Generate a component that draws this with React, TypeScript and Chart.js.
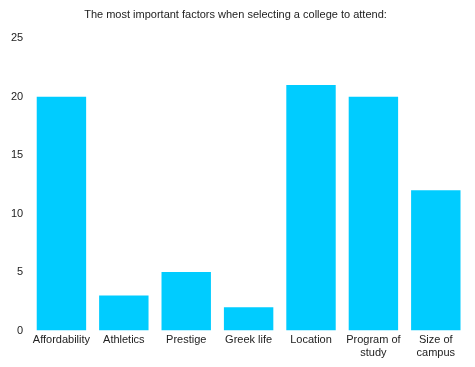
import React, { useEffect, useRef } from "react";
import { Chart, registerables } from "chart.js";

Chart.register(...registerables);

const categories: (string | string[])[] = [
  "Affordability",
  "Athletics",
  "Prestige",
  "Greek life",
  "Location",
  ["Program of", "study"],
  ["Size of", "campus"],
];
const values: number[] = [20, 3, 5, 2, 21, 20, 12];
const titleText = "The most important factors when selecting a college to attend:";

export default function App() {
  const ref = useRef<HTMLCanvasElement | null>(null);
  useEffect(() => {
    document.body.style.margin = "0";
    const ctx = ref.current!;
    const chart = new Chart(ctx, {
      type: "bar",
      data: {
        labels: categories,
        datasets: [
          {
            data: values,
            backgroundColor: "#00CCFF",
            borderWidth: 0,
            categoryPercentage: 0.9,
            barPercentage: 0.88,
          },
        ],
      },
      options: {
        animation: false,
        responsive: false,
        layout: { padding: { left: 4, right: 8, top: 8, bottom: 4 } },
        plugins: {
          legend: { display: false },
          tooltip: { enabled: false },
          title: {
            display: true,
            text: titleText,
            color: "#222",
            font: { family: "Liberation Sans, Arial, sans-serif", size: 11, weight: "normal" },
            padding: { top: 0, bottom: 17 },
          },
        },
        scales: {
          x: {
            grid: { display: false, drawTicks: false },
            border: { display: false },
            ticks: {
              color: "#222",
              font: { family: "Liberation Sans, Arial, sans-serif", size: 11 },
              maxRotation: 0,
              autoSkip: false,
              padding: 3,
            },
          },
          y: {
            min: 0,
            max: 25,
            grid: { display: false, drawTicks: false },
            border: { display: false },
            ticks: {
              stepSize: 5,
              color: "#222",
              font: { family: "Liberation Sans, Arial, sans-serif", size: 11 },
              padding: 7,
            },
          },
        },
      },
    });
    return () => chart.destroy();
  }, []);
  return <canvas ref={ref} width={475} height={367} style={{ display: "block" }} />;
}
